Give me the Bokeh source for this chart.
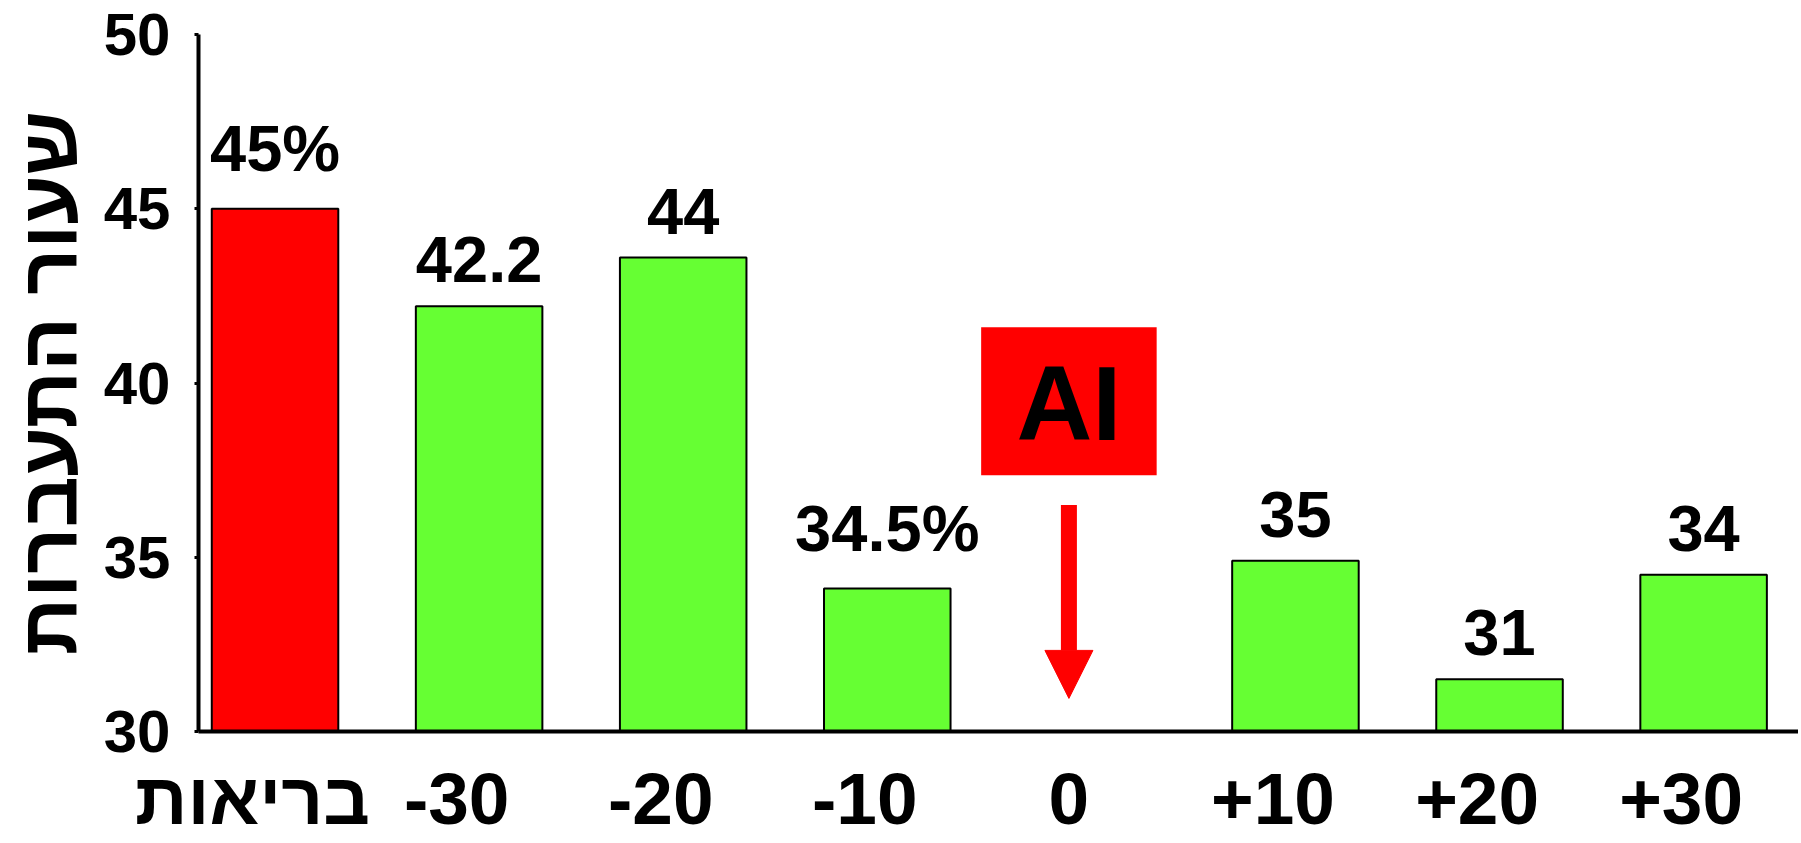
from bokeh.plotting import figure
from bokeh.models import (Range1d, FixedTicker, Label, BoxAnnotation, Arrow,
                          NormalHead, ColumnDataSource)
from bokeh.transform import dodge
from bokeh.core.properties import value
from bokeh.embed import file_html
from bokeh.resources import INLINE

# ---- data ----
categories = ["בריאות", "-30", "-20", "-10", "0", "+10", "+20", "+30"]
rates = [45.0, 42.2, 43.6, 34.1, None, 34.9, 31.5, 34.5]
rate_labels = ["45%", "42.2", "44", "34.5%", "", "35", "31", "34"]
y_ticks = [30, 35, 40, 45, 50]
y_title = "שעור התעברות"
marker_text = "AI"
marker_category = "0"

# ---- styles ----
RED = "#FF0000"
GREEN = "#66FF33"
FONT = "Liberation Sans"

idx = [i for i, r in enumerate(rates) if r is not None]
source = ColumnDataSource(dict(
    x=idx,
    top=[rates[i] for i in idx],
    label=[rate_labels[i] for i in idx],
    color=[RED if i == 0 else GREEN for i in idx],
))

p = figure(frame_width=1600, frame_height=697,
           x_range=Range1d(-0.265, 7.575), y_range=Range1d(30, 50),
           output_backend="svg", toolbar_location=None,
           min_border_left=195, min_border_right=0,
           min_border_top=34, min_border_bottom=0)

p.vbar(x=dodge("x", 0.11), top="top", bottom=30, width=0.62,
       fill_color="color", line_color="black", line_width=2, source=source)

p.text(x=dodge("x", 0.11), y="top", text="label", y_offset=-24,
       text_align="center", text_baseline="bottom",
       text_font=value(FONT), text_font_style="bold", text_font_size="65px",
       text_color="black", source=source)

# AI marker box and arrow
ai_x = categories.index(marker_category)
p.add_layout(BoxAnnotation(left=ai_x - 0.43, right=ai_x + 0.43,
                           bottom=37.35, top=41.6,
                           fill_color=RED, fill_alpha=1.0, line_color=None))
p.add_layout(Label(x=ai_x, y=39.4, text=marker_text,
                   text_align="center", text_baseline="middle",
                   text_font=FONT, text_font_style="bold",
                   text_font_size="105px", text_color="black"))
p.add_layout(Arrow(end=NormalHead(size=48, fill_color=RED, line_color=RED),
                   x_start=ai_x, y_start=36.5, x_end=ai_x, y_end=30.95,
                   line_color=RED, line_width=16))

# axes
p.xaxis.ticker = FixedTicker(ticks=list(range(len(categories))))
p.xaxis.major_label_overrides = {i: c for i, c in enumerate(categories)}
p.xaxis.major_tick_line_color = None
p.xaxis.major_tick_out = 0
p.xaxis.major_tick_in = 0
p.xaxis.minor_tick_line_color = None
p.xaxis.axis_line_width = 4
p.xaxis.axis_line_color = "black"
p.xaxis.major_label_text_font = FONT
p.xaxis.major_label_text_font_style = "bold"
p.xaxis.major_label_text_font_size = "73px"
p.xaxis.major_label_text_color = "black"
p.xaxis.major_label_standoff = 26

p.yaxis.ticker = FixedTicker(ticks=y_ticks)
p.yaxis.major_tick_out = 4
p.yaxis.major_tick_in = 0
p.yaxis.major_tick_line_width = 3
p.yaxis.minor_tick_line_color = None
p.yaxis.axis_line_width = 4
p.yaxis.axis_line_color = "black"
p.yaxis.major_label_text_font = FONT
p.yaxis.major_label_text_font_style = "bold"
p.yaxis.major_label_text_font_size = "60px"
p.yaxis.major_label_text_color = "black"
p.yaxis.major_label_standoff = 24
p.yaxis.axis_label = y_title
p.yaxis.axis_label_text_font = FONT
p.yaxis.axis_label_text_font_style = "bold"
p.yaxis.axis_label_text_font_size = "80px"
p.yaxis.axis_label_text_color = "black"
p.yaxis.axis_label_standoff = 8

p.grid.visible = False
p.outline_line_color = None
p.background_fill_color = "white"
p.border_fill_color = "white"

open("out.html", "w").write(file_html(p, INLINE))
